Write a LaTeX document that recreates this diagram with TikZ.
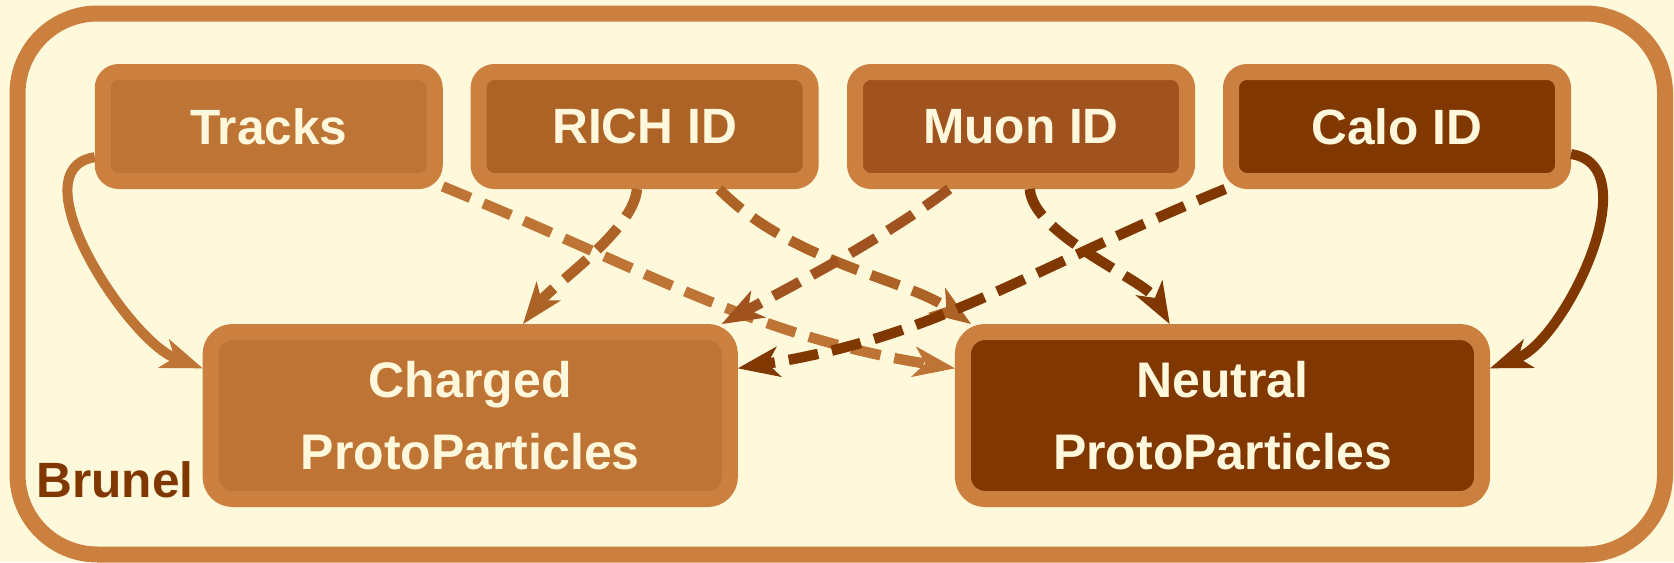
\documentclass[tikz,border=0pt]{standalone}
\usepackage{fontspec}
\setmainfont{Liberation Sans}
\usetikzlibrary{arrows.meta}
\definecolor{bgc}{HTML}{FFF9DB}
\definecolor{bordc}{HTML}{CC8040}
\definecolor{txtc}{HTML}{FFF8DC}
\definecolor{cTr}{HTML}{BE7434}
\definecolor{cRi}{HTML}{AD6226}
\definecolor{cMu}{HTML}{A0531E}
\definecolor{cCa}{HTML}{803700}
\tikzset{
  topbox/.style={draw=bordc, line width=8pt, rounded corners=8pt,
    minimum width=166pt, minimum height=54.5pt, inner sep=0pt, outer sep=4pt,
    text=txtc, font=\fontsize{24.8}{28}\selectfont\bfseries},
  botbox/.style={draw=bordc, line width=8pt, rounded corners=11pt,
    minimum width=259.6pt, minimum height=83.5pt, inner sep=0pt, outer sep=4pt,
    text=txtc, align=center, font=\fontsize{25}{36}\selectfont\bfseries},
  tip/.style={-{Stealth[length=21pt, width=15.5pt, inset=6pt, line width=0.5pt]}},
  dashedge/.style={tip, line width=5.2pt, dash pattern=on 15pt off 7pt},
  solidedge/.style={tip, line width=5pt}
}
\begin{document}
\begin{tikzpicture}[x=0.5pt,y=-0.5pt]
\useasboundingbox (0,0) rectangle (1674,562);
\fill[bgc] (0,0) rectangle (1674,562);
\draw[bordc, line width=8pt, rounded corners=40pt] (17.5,13.5) rectangle (1665,554.5);

\node[topbox, fill=cTr] (tracks) at (268.75,126.5) {Tracks};
\node[topbox, fill=cRi] (rich) at (644.6,126.5) {RICH ID};
\node[topbox, fill=cMu] (muon) at (1021,126.5) {Muon ID};
\node[topbox, fill=cCa] (calo) at (1397,126.5) {Calo ID};
\node[botbox, fill=cTr] (charged) at (470.25,415.5) {Charged\\ProtoParticles};
\node[botbox, fill=cCa] (neutral) at (1222.5,415.5) {Neutral\\ProtoParticles};
\node[anchor=base west, inner sep=0pt, text=cCa, font=\fontsize{24.8}{28}\selectfont\bfseries] (brunel) at (36,497) {Brunel};

\draw[solidedge, draw=cTr] (tracks.190) .. controls +(-79,12) and +(-74,-28) .. (charged.170);
\draw[solidedge, draw=cCa] (calo.-9) .. controls +(79,12) and +(74,-28) .. (neutral.10);
\draw[dashedge, draw=cTr] (tracks.-19.5) .. controls +(200,82) and +(-200,-32) .. (neutral.170);
\draw[dashedge, draw=cRi] (rich.263) .. controls +(-3,41) and +(31,-40) .. (charged.60);
\draw[dashedge, draw=cRi] (rich.-40) .. controls +(70,72) and +(-66,-45) .. (neutral.160);
\draw[dashedge, draw=cMu] (muon.221) .. controls +(-68,51) and +(70,-38) .. (charged.20);
\draw[dashedge, draw=cCa] (muon.-82) .. controls +(3,46) and +(-25,-44) .. (neutral.120);
\draw[dashedge, draw=cCa] (calo.200) .. controls +(-200,82) and +(200,-32) .. (charged.10);
\end{tikzpicture}
\end{document}
